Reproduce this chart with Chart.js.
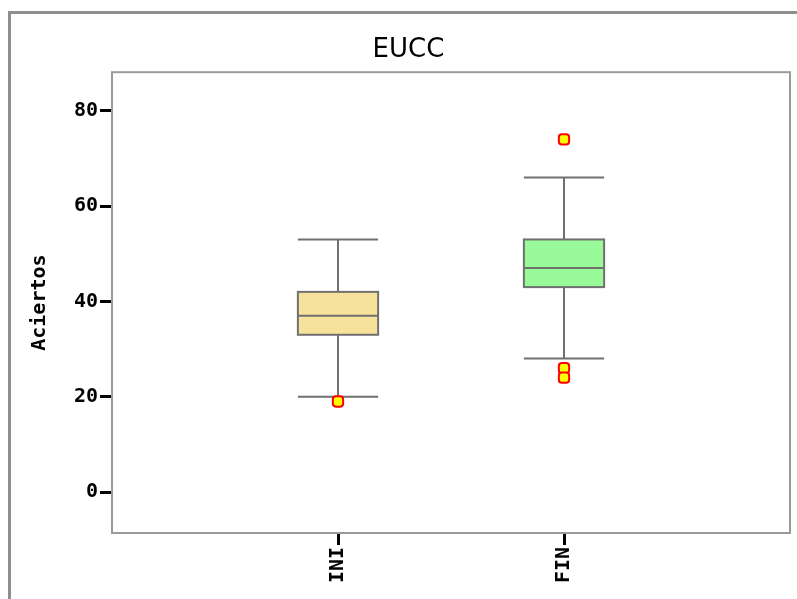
<!DOCTYPE html>
<html>
<head>
<meta charset="utf-8">
<script src="https://cdn.jsdelivr.net/npm/chart.js@4/dist/chart.umd.min.js"></script>
<style>
    body { margin: 0; background: #fff; overflow: hidden; }
    #wrap { position: relative; width: 817px; height: 599px; }
    #marco { position: absolute; left: 8px; top: 11px; width: 830px; height: 620px; border: 3px solid #8e8e8e; box-sizing: border-box; }
    canvas { position: absolute; left: 0; top: 0; }
</style>
</head>
<body>
<div id="wrap">
    <div id="marco"></div>
    <canvas id="grafico" width="817" height="599"></canvas>
</div>
<script>
// Datos del diagrama de caja
const categorias = ['INI', 'FIN'];
const bigoteInf = [20, 28];
const cuartil1 = [33, 43];
const mediana = [37, 47];
const cuartil3 = [42, 53];
const bigoteSup = [53, 66];
const atipicos = [[19], [74, 26, 24]];
const ticksY = [0, 20, 40, 60, 80];

const coloresCaja = ['#f7e29c', '#98fa98'];
const anchoCaja = 0.355; // en unidades del eje x

// Puntos atípicos como scatter
const puntosAtipicos = [];
atipicos.forEach((lista, i) => {
    lista.forEach(v => puntosAtipicos.push({ x: i + 1, y: v }));
});

// Plugin para dibujar cajas y bigotes con las escalas del gráfico
const cajas = {
    id: 'cajas',
    beforeDatasetsDraw(chart) {
        const { ctx, scales: { x, y } } = chart;
        ctx.save();
        ctx.strokeStyle = '#707070';
        ctx.lineWidth = 2;
        categorias.forEach((cat, i) => {
            const cx = x.getPixelForValue(i + 1);
            const half = (x.getPixelForValue(i + 1 + anchoCaja / 2) - cx);
            const x0 = cx - half, x1 = cx + half;
            const yLo = y.getPixelForValue(bigoteInf[i]);
            const yHi = y.getPixelForValue(bigoteSup[i]);
            const yQ1 = y.getPixelForValue(cuartil1[i]);
            const yQ3 = y.getPixelForValue(cuartil3[i]);
            const yMed = y.getPixelForValue(mediana[i]);

            // bigotes
            ctx.beginPath();
            ctx.moveTo(cx, yHi); ctx.lineTo(cx, yQ3);
            ctx.moveTo(cx, yQ1); ctx.lineTo(cx, yLo);
            ctx.moveTo(x0, yHi); ctx.lineTo(x1, yHi);
            ctx.moveTo(x0, yLo); ctx.lineTo(x1, yLo);
            ctx.stroke();

            // caja
            ctx.fillStyle = coloresCaja[i];
            ctx.fillRect(x0, yQ3, x1 - x0, yQ1 - yQ3);
            ctx.strokeRect(x0, yQ3, x1 - x0, yQ1 - yQ3);

            // mediana
            ctx.beginPath();
            ctx.moveTo(x0, yMed); ctx.lineTo(x1, yMed);
            ctx.stroke();
        });
        ctx.restore();
    },
    afterDraw(chart) {
        const { ctx, chartArea: a } = chart;
        ctx.save();
        ctx.strokeStyle = '#9a9a9a';
        ctx.lineWidth = 2;
        ctx.strokeRect(a.left, a.top, a.right - a.left, a.bottom - a.top);
        ctx.restore();
    }
};

const fuenteTicks = { family: "'DejaVu Sans Mono', monospace", size: 20, weight: 'bold' };

new Chart(document.getElementById('grafico'), {
    type: 'scatter',
    data: {
        datasets: [{
            label: 'Atípicos',
            data: puntosAtipicos,
            pointStyle: 'rectRounded',
            pointRadius: 6,
            pointBackgroundColor: '#ffff00',
            pointBorderColor: '#ff0000',
            pointBorderWidth: 2
        }]
    },
    options: {
        responsive: false,
        animation: false,
        layout: { padding: 0 },
        plugins: {
            legend: { display: false },
            tooltip: { enabled: false },
            title: {
                display: true,
                text: 'EUCC',
                color: '#000',
                font: { family: "'DejaVu Sans', sans-serif", size: 26, weight: 'normal' },
                padding: { top: 35, bottom: 6 }
            }
        },
        scales: {
            x: {
                type: 'linear',
                min: 0,
                max: 3,
                afterBuildTicks: s => { s.ticks = categorias.map((c, i) => ({ value: i + 1 })); },
                afterFit: s => { s.height = 66; },
                border: { display: false },
                grid: { drawOnChartArea: false, drawTicks: true, tickLength: 12, tickColor: '#000', tickWidth: 3 },
                ticks: {
                    color: '#000',
                    font: fuenteTicks,
                    padding: 2,
                    minRotation: 90,
                    maxRotation: 90,
                    callback: v => categorias[v - 1] || ''
                }
            },
            y: {
                min: -8.6,
                max: 88.1,
                afterBuildTicks: s => { s.ticks = ticksY.map(v => ({ value: v })); },
                afterFit: s => { s.width = 112; },
                border: { display: false },
                grid: { drawOnChartArea: false, drawTicks: true, tickLength: 12, tickColor: '#000', tickWidth: 3 },
                ticks: { color: '#000', font: fuenteTicks, padding: 2 },
                title: {
                    display: true,
                    text: 'Aciertos',
                    color: '#000',
                    font: fuenteTicks,
                    padding: { top: 28, bottom: 0 }
                }
            },
            // eje vacío a la derecha para dejar margen sin descentrar el título
            derecha: {
                type: 'linear',
                position: 'right',
                afterFit: s => { s.width = 27; },
                border: { display: false },
                grid: { display: false },
                ticks: { display: false }
            }
        }
    },
    plugins: [cajas]
});
</script>
</body>
</html>
